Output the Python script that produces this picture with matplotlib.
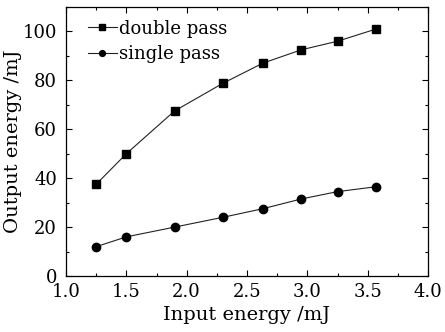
import matplotlib
matplotlib.use("Agg")
import matplotlib.pyplot as plt
from matplotlib.ticker import MultipleLocator

input_energy = [1.25, 1.5, 1.9, 2.3, 2.63, 2.95, 3.25, 3.57]
double_pass = [37.5, 50.0, 67.5, 78.8, 87.0, 92.5, 96.0, 101.0]
single_pass = [12.0, 16.0, 20.0, 24.0, 27.5, 31.5, 34.5, 36.5]

plt.rcParams['font.family'] = ['DejaVu Serif']

fig = plt.figure(figsize=(4.45, 3.32), dpi=100)
ax = fig.add_axes([66/445, 1 - 276/332, (428-66)/445, (276-7)/332])

ax.plot(input_energy, double_pass, color='#222222', lw=0.8, marker='s', ms=5.5,
        mfc='black', mec='black', label='double pass')
ax.plot(input_energy, single_pass, color='#222222', lw=0.8, marker='o', ms=6,
        mfc='black', mec='black', label='single pass')

ax.set_xlim(1.0, 4.0)
ax.set_ylim(0, 110)
ax.xaxis.set_minor_locator(MultipleLocator(0.25))
ax.yaxis.set_major_locator(MultipleLocator(20))
ax.yaxis.set_minor_locator(MultipleLocator(10))
ax.set_xticks([1.0, 1.5, 2.0, 2.5, 3.0, 3.5, 4.0])
ax.set_xticklabels(['1.0', '1.5', '2.0', '2.5', '3.0', '3.5', '4.0'])
ax.tick_params(which='both', direction='in', top=True, right=True, labelsize=13)
ax.tick_params(axis='x', pad=5)
ax.tick_params(axis='y', pad=6.5)
ax.tick_params(which='major', length=4, width=0.8)
ax.tick_params(which='minor', length=2.5, width=0.8)
for s in ax.spines.values():
    s.set_linewidth(0.9)

ax.set_xlabel('Input energy /mJ', fontsize=14, labelpad=4)
ax.set_ylabel('Output energy /mJ', fontsize=14, labelpad=0)

ax.legend(loc='upper left', frameon=False, fontsize=13, handlelength=1.6,
          handletextpad=0.15, borderaxespad=0.0, labelspacing=0.4,
          markerscale=0.7, bbox_to_anchor=(0.04, 0.98))

fig.savefig('out.png', dpi=100)
